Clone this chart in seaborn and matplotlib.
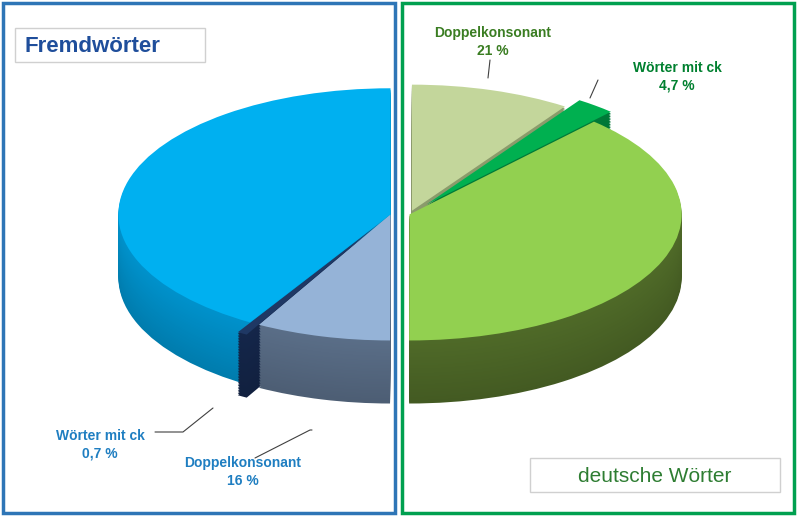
import matplotlib
matplotlib.use("Agg")
import matplotlib.pyplot as plt
import seaborn as sns
import numpy as np
from matplotlib.patches import Rectangle
from matplotlib.lines import Line2D
from matplotlib.colors import to_rgb

sns.set_style("white")
plt.rcParams['font.family'] = ['Liberation Sans', 'DejaVu Sans']

# clockwise from top: deutsche Wörter then Fremdwörter
categories = ["dt Doppelkonsonant", "dt Wörter mit ck", "dt Rest",
              "fr Doppelkonsonant", "fr Wörter mit ck", "fr Rest"]
values = [9.5, 2.35, 38.15, 8.0, 0.6, 41.35]
group = ["de", "de", "de", "fr", "fr", "fr"]
top_colors = ["#C3D69B", "#00B050", "#92D050", "#95B3D7", "#1F3864", "#00B0F0"]
side_colors = ["#8C9C6C", "#007A38", "#4F6A28", "#5A6E88", "#14264A", "#0092CC"]
explode = [0.03, 0.1, 0, 0, 0.09, 0]
labels = ["Doppelkonsonant\n21 %", "Wörter mit ck\n4,7 %",
          "Wörter mit ck\n0,7 %", "Doppelkonsonant\n16 %"]

XL = (-1.47, 1.47)
YL = (-2.40, 1.70)
fig = plt.figure(figsize=(8, 5.17), dpi=100)
ax = fig.add_axes([0, 0, 1, 1])

depth = 0.5
nlayers = 40
shift = {"de": 0.035, "fr": -0.035}
for k in range(nlayers + 1):
    d = depth * (1 - k / nlayers)
    for g in ("de", "fr"):
        if k == nlayers:
            cols = [c if gg == g else "none" for c, gg in zip(top_colors, group)]
        else:
            cols = []
            for c, gg in zip(side_colors, group):
                if gg != g:
                    cols.append("none")
                else:
                    f = 0.85 + 0.15 * (k / nlayers)
                    cols.append(tuple(min(1, x * f) for x in to_rgb(c)))
        ax.pie(values, colors=cols, startangle=90, counterclock=False,
               explode=explode, center=(shift[g], -d), radius=1.0,
               wedgeprops=dict(linewidth=0), frame=True)
ax.set_xlim(*XL)
ax.set_ylim(*YL)
ax.set_aspect('auto')
ax.axis('off')

H = 517
def fy(y): return 1 - y / H
def fx(x): return x / 800

fig.patches.append(Rectangle((fx(3), fy(513)), fx(392), (510) / H, transform=fig.transFigure,
                             fill=False, edgecolor="#2E75B6", linewidth=2.5))
fig.patches.append(Rectangle((fx(402), fy(513)), fx(392), (510) / H, transform=fig.transFigure,
                             fill=False, edgecolor="#00A050", linewidth=2.5))
fig.patches.append(Rectangle((fx(15), fy(62)), fx(190), 34 / H, transform=fig.transFigure,
                             facecolor="white", edgecolor="#D0D0D0", linewidth=1))
fig.patches.append(Rectangle((fx(530), fy(492)), fx(250), 34 / H, transform=fig.transFigure,
                             facecolor="white", edgecolor="#D0D0D0", linewidth=1))
fig.text(fx(24), fy(46), "Fremdwörter", fontsize=16, fontweight="bold",
         color="#1F4E9B", va="center")
fig.text(fx(655), fy(476), "deutsche Wörter", fontsize=15, color="#2E7D32",
         ha="center", va="center")

fig.text(fx(493), fy(42), labels[0], fontsize=10, fontweight="bold", color="#3A7D22",
         ha="center", va="center", linespacing=1.3)
fig.text(fx(677), fy(77), labels[1], fontsize=10, fontweight="bold", color="#00802F",
         ha="center", va="center", linespacing=1.3)
fig.text(fx(100), fy(445), labels[2], fontsize=10, fontweight="bold", color="#1F7EC1",
         ha="center", va="center", linespacing=1.3)
fig.text(fx(243), fy(472), labels[3], fontsize=10, fontweight="bold", color="#1F7EC1",
         ha="center", va="center", linespacing=1.3)

for xs, ys in [((490, 488), (60, 78)), ((598, 590), (80, 98)),
               ((155, 183, 213), (432, 432, 408)), ((255, 310, 312), (458, 430, 430))]:
    fig.add_artist(Line2D([fx(x) for x in xs], [fy(y) for y in ys],
                          transform=fig.transFigure, color="#404040", linewidth=0.8))

fig.savefig("out.png", dpi=100)
